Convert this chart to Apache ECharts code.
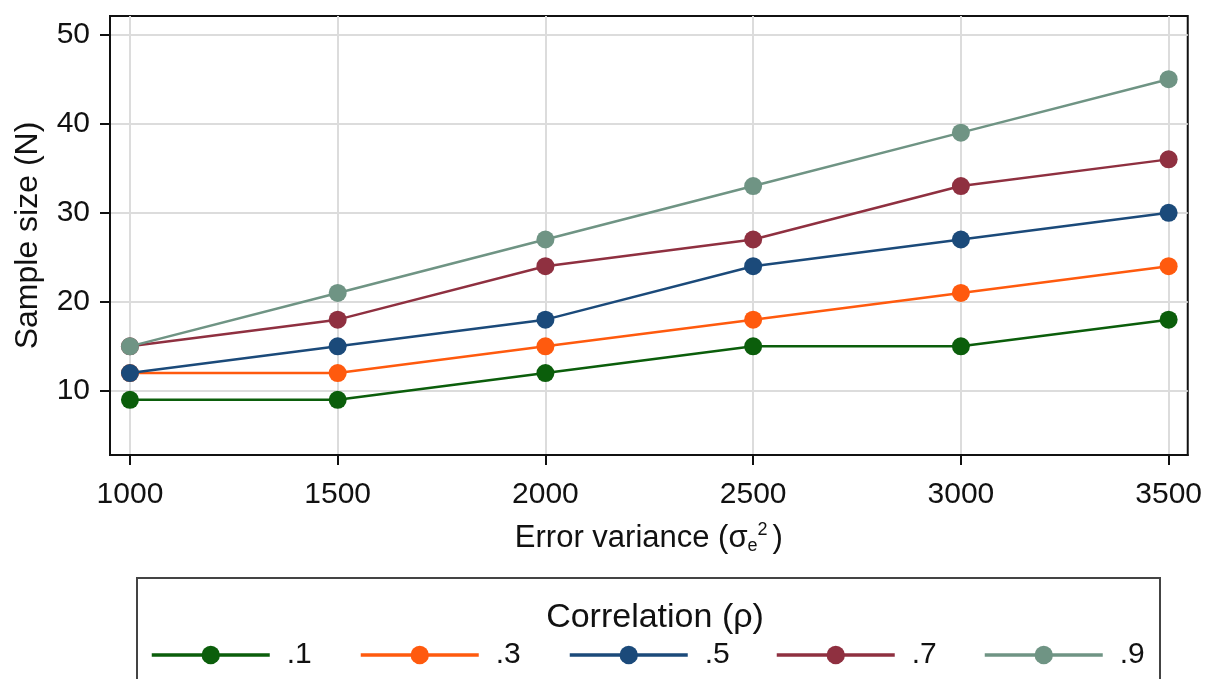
<!DOCTYPE html>
<html>
<head>
<meta charset="utf-8">
<script src="https://cdn.jsdelivr.net/npm/echarts@6/dist/echarts.min.js"></script>
<style>
  html, body { margin: 0; padding: 0; background: #fff; }
  #chart { width: 1205px; height: 679px; }
</style>
</head>
<body>
<div id="chart"></div>
<script>
const FONT = '"Liberation Sans", Arial, sans-serif'

// data
const variances = [1000, 1500, 2000, 2500, 3000, 3500]
const rhoLabels = ['.1', '.3', '.5', '.7', '.9']
const rho1 = [9, 9, 12, 15, 15, 18]
const rho3 = [12, 12, 15, 18, 21, 24]
const rho5 = [12, 15, 18, 24, 27, 30]
const rho7 = [15, 18, 24, 27, 33, 36]
const rho9 = [15, 21, 27, 33, 39, 45]
const yTicks = [10, 20, 30, 40, 50]
const colors = ['#0b5e0b', '#ff5a0e', '#1b4a7a', '#8f3040', '#6f9484']

const seriesValues = [rho1, rho3, rho5, rho7, rho9]
const legendLeft = [150, 359, 568, 775, 983] // one legend box per item

const chart = echarts.init(document.getElementById('chart'))

chart.setOption({
  backgroundColor: '#fff',
  animation: false,
  color: colors,
  title: {
    text: 'Correlation (ρ)',
    left: 650,
    textAlign: 'center',
    top: 596,
    textStyle: { fontFamily: FONT, fontSize: 34, fontWeight: 'normal', color: '#111' },
  },
  graphic: [
    {
      type: 'rect',
      shape: { x: 137, y: 578, width: 1023, height: 120 },
      style: { fill: 'none', stroke: '#444', lineWidth: 2 },
      z: -1,
    },
  ],
  legend: rhoLabels.map((name, i) => ({
    left: legendLeft[i],
    top: 640,
    padding: 0,
    itemWidth: 118,
    itemHeight: 23,
    data: [name],
    lineStyle: { width: 3.5 },
    textStyle: { fontFamily: FONT, fontSize: 30, color: '#111', padding: [0, 0, 0, 12] },
  })),
  grid: {
    left: 110, right: 17, top: 16, bottom: 224,
    show: true,
    borderColor: '#111',
    borderWidth: 2,
  },
  xAxis: {
    type: 'value',
    min: 952,
    max: 3546,
    name: 'Error variance (σ{sub|e}{sup|2})',
    nameLocation: 'middle',
    nameGap: 66,
    nameTextStyle: {
      fontFamily: FONT, fontSize: 31, color: '#111',
      rich: {
        sub: { fontFamily: FONT, fontSize: 18, color: '#111', verticalAlign: 'bottom', padding: [14, 0, 0, 0] },
        sup: { fontFamily: FONT, fontSize: 18, color: '#111', verticalAlign: 'top', padding: [0, 5, 16, 0] },
      },
    },
    axisLine: { show: true, onZero: false, lineStyle: { color: '#111', width: 2 } },
    axisTick: { show: true, length: 10, lineStyle: { color: '#111', width: 2 }, customValues: variances },
    axisLabel: {
      fontFamily: FONT, fontSize: 30, color: '#111', margin: 25,
      customValues: variances,
      formatter: (v) => String(v),
    },
    splitLine: { show: true, lineStyle: { color: '#dcdcdc', width: 2 } },
  },
  yAxis: {
    type: 'value',
    min: 2.8,
    max: 52.1,
    name: 'Sample size (N)',
    nameLocation: 'middle',
    nameGap: 66,
    nameTextStyle: { fontFamily: FONT, fontSize: 32, color: '#111' },
    axisLine: { show: true, onZero: false, lineStyle: { color: '#111', width: 2 } },
    axisTick: { show: true, length: 10, lineStyle: { color: '#111', width: 2 }, customValues: yTicks },
    axisLabel: { fontFamily: FONT, fontSize: 30, color: '#111', margin: 20, customValues: yTicks },
    splitLine: { show: true, lineStyle: { color: '#dcdcdc', width: 2 } },
  },
  series: seriesValues.map((vals, i) => ({
    name: rhoLabels[i],
    type: 'line',
    data: variances.map((v, j) => [v, vals[j]]),
    symbol: 'circle',
    symbolSize: 18,
    lineStyle: { width: 2.5, color: colors[i] },
    itemStyle: { color: colors[i] },
    z: 2 + i,
  })),
})
</script>
</body>
</html>
